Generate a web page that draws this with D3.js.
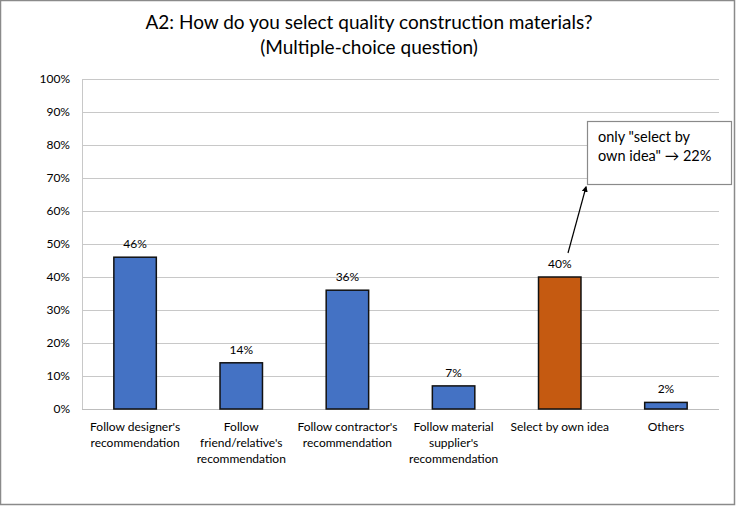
<!DOCTYPE html>
<html>
<head>
<meta charset="utf-8">
<script src="https://cdn.jsdelivr.net/npm/d3@7"></script>
<style>
  body { margin: 0; background: #fff; }
  text { font-family: Lato, "Open Sans", sans-serif; fill: #000; }
</style>
</head>
<body>
<svg width="736" height="507"></svg>
<script>
var categories = [
  ["Follow designer's", "recommendation"],
  ["Follow", "friend/relative's", "recommendation"],
  ["Follow contractor's", "recommendation"],
  ["Follow material", "supplier's", "recommendation"],
  ["Select by own idea"],
  ["Others"]
];
var values = [46, 14, 36, 7, 40, 2];
var highlight = [false, false, false, false, true, false];
var yTicks = [0, 10, 20, 30, 40, 50, 60, 70, 80, 90, 100];
var note = ["only \"select by", "own idea\" \u2192 22%"];

var svg = d3.select("svg"),
    width = +svg.attr("width"),
    height = +svg.attr("height"),
    plotLeft = 82, plotRight = 719, plotTop = 79, plotBottom = 409;

// outer frame
svg.append("rect")
    .attr("x", 0.5).attr("y", 0.5)
    .attr("width", width - 2).attr("height", height - 3)
    .attr("fill", "none").attr("stroke", "#8a8a8a").attr("stroke-width", 1.5);

svg.append("text")
    .attr("x", 369).attr("y", 29)
    .attr("text-anchor", "middle")
    .style("font-size", "19px")
    .text("A2: How do you select quality construction materials?");
svg.append("text")
    .attr("x", 369).attr("y", 54)
    .attr("text-anchor", "middle")
    .style("font-size", "19px")
    .text("(Multiple-choice question)");

var x = d3.scaleBand()
    .domain(d3.range(values.length))
    .range([plotLeft, plotRight])
    .paddingInner(0.6).paddingOuter(0.3);

var y = d3.scaleLinear().domain([0, 100]).range([plotBottom, plotTop]);

// grid
svg.append("g").selectAll("line")
  .data(yTicks.filter(function(d) { return d > 0; }))
  .enter().append("line")
    .attr("x1", plotLeft).attr("x2", plotRight)
    .attr("y1", function(d) { return y(d) + 0.5; })
    .attr("y2", function(d) { return y(d) + 0.5; })
    .attr("stroke", "#c8c8c8").attr("stroke-width", 1);

var yAxis = svg.append("g")
    .attr("transform", "translate(" + plotLeft + ",0)")
    .call(d3.axisLeft(y).tickValues(yTicks).tickSize(0).tickPadding(12)
      .tickFormat(function(d) { return d + "%"; }));
yAxis.select(".domain").attr("stroke", "#c8c8c8");
yAxis.selectAll("text").style("font-size", "12px").style("font-family", "Lato, sans-serif");

svg.append("line")
    .attr("x1", plotLeft).attr("x2", plotRight)
    .attr("y1", plotBottom + 0.5).attr("y2", plotBottom + 0.5)
    .attr("stroke", "#bdbdbd");

svg.append("g").selectAll("rect")
  .data(values)
  .enter().append("rect")
    .attr("x", function(d, i) { return x(i); })
    .attr("y", function(d) { return y(d); })
    .attr("width", x.bandwidth())
    .attr("height", function(d) { return plotBottom - y(d); })
    .attr("fill", function(d, i) { return highlight[i] ? "#C55A11" : "#4472C4"; })
    .attr("stroke", "#111").attr("stroke-width", 1.5);

svg.append("g").selectAll("text")
  .data(values)
  .enter().append("text")
    .attr("x", function(d, i) { return x(i) + x.bandwidth() / 2; })
    .attr("y", function(d) { return y(d) - 9; })
    .attr("text-anchor", "middle")
    .style("font-size", "12px")
    .text(function(d) { return d + "%"; });

var labels = svg.append("g").selectAll("text")
  .data(categories)
  .enter().append("text")
    .attr("text-anchor", "middle")
    .attr("transform", function(d, i) { return "translate(" + (x(i) + x.bandwidth() / 2) + "," + (plotBottom + 22) + ")"; })
    .style("font-size", "12px");
labels.selectAll("tspan")
  .data(function(d) { return d; })
  .enter().append("tspan")
    .attr("x", 0)
    .attr("dy", function(d, i) { return i ? 16 : 0; })
    .text(function(d) { return d; });

// callout
svg.append("defs").append("marker")
    .attr("id", "ah").attr("viewBox", "0 0 10 10")
    .attr("refX", 8).attr("refY", 5)
    .attr("markerWidth", 5).attr("markerHeight", 5)
    .attr("orient", "auto")
  .append("path").attr("d", "M0,0L10,5L0,10z").attr("fill", "#000");

svg.append("line")
    .attr("x1", 568).attr("y1", y(values[4]) - 24)
    .attr("x2", 586).attr("y2", 187)
    .attr("stroke", "#000").attr("stroke-width", 1.2)
    .attr("marker-end", "url(#ah)");

svg.append("rect")
    .attr("x", 587.5).attr("y", 121.5)
    .attr("width", 144).attr("height", 63)
    .attr("fill", "#fff").attr("stroke", "#8a8a8a").attr("stroke-width", 1.2);

svg.append("text")
    .attr("x", 598).attr("y", 142)
    .style("font-size", "14.5px")
  .selectAll("tspan")
  .data(note)
  .enter().append("tspan")
    .attr("x", 598)
    .attr("dy", function(d, i) { return i ? 19 : 0; })
    .text(function(d) { return d; });
</script>
</body>
</html>
